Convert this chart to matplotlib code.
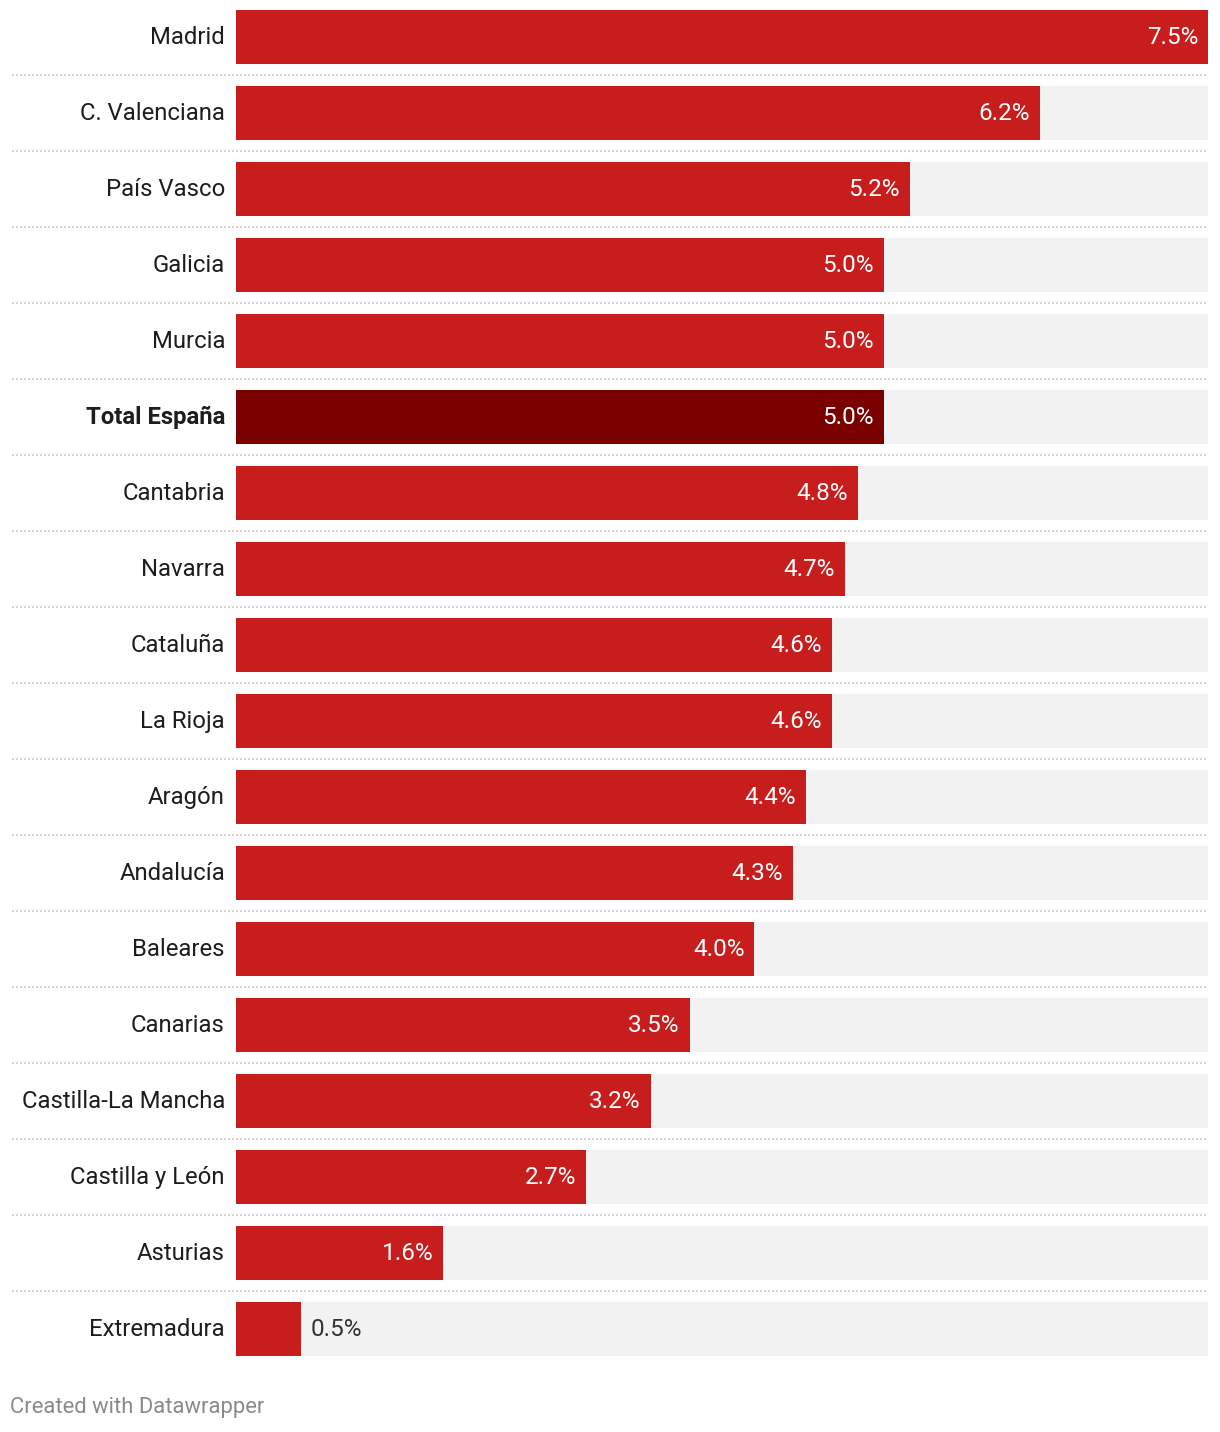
import matplotlib
matplotlib.use("Agg")
from matplotlib import pyplot as plt

plt.rcParams['font.family'] = ['Roboto', 'DejaVu Sans']

regions = ["Madrid", "C. Valenciana", "País Vasco", "Galicia", "Murcia",
           "Total España", "Cantabria", "Navarra", "Cataluña", "La Rioja",
           "Aragón", "Andalucía", "Baleares", "Canarias",
           "Castilla-La Mancha", "Castilla y León", "Asturias", "Extremadura"]
values = [7.5, 6.2, 5.2, 5.0, 5.0, 5.0, 4.8, 4.7, 4.6, 4.6,
          4.4, 4.3, 4.0, 3.5, 3.2, 2.7, 1.6, 0.5]
highlight = "Total España"

W, H = 1220, 1432
fig = plt.figure(figsize=(W / 100, H / 100), dpi=100)
ax = fig.add_axes([236 / W, 0, 972 / W, 1])

xmax = 7.5
px = 972 / xmax  # pixels per unit
ax.set_xlim(0, xmax)
ax.set_ylim((H - 37) / 76, -37 / 76)
ax.axis('off')

red = '#c71e1d'
dark = '#7a0000'
bg = '#f2f2f2'
bh = 54 / 76
dy = 0.5 / 76  # small nudge so text sits centred like the original

ys = list(range(len(regions)))
ax.barh(ys, [xmax] * len(ys), height=bh, color=bg, linewidth=0)
colors = [dark if r == highlight else red for r in regions]
ax.barh(ys, values, height=bh, color=colors, linewidth=0)

xl = -224 / px
for i, (r, v) in enumerate(zip(regions, values)):
    ax.text(-11 / px, i + dy, r, ha='right', va='center', fontsize=17.2,
            color='#1d1d1d', fontweight='bold' if r == highlight else 'normal',
            clip_on=False)
    lab = f"{v:.1f}%"
    if v * px > 80:
        ax.text(v - 10 / px, i + dy, lab, ha='right', va='center',
                fontsize=17.5, color='white')
    else:
        ax.text(v + 10 / px, i + dy, lab, ha='left', va='center',
                fontsize=17.5, color='#333333')
    if i < len(regions) - 1:
        ax.plot([xl, xmax], [i + 0.5, i + 0.5], color='#cccccc', lw=1.2,
                linestyle=(0, (1.2, 1.2)), clip_on=False)

fig.text(10 / W, 1 - 1408 / H, "Created with Datawrapper", ha='left',
         va='center', fontsize=15.8, color='#8a8a8a')

fig.savefig("out.png", dpi=100, facecolor='white')
